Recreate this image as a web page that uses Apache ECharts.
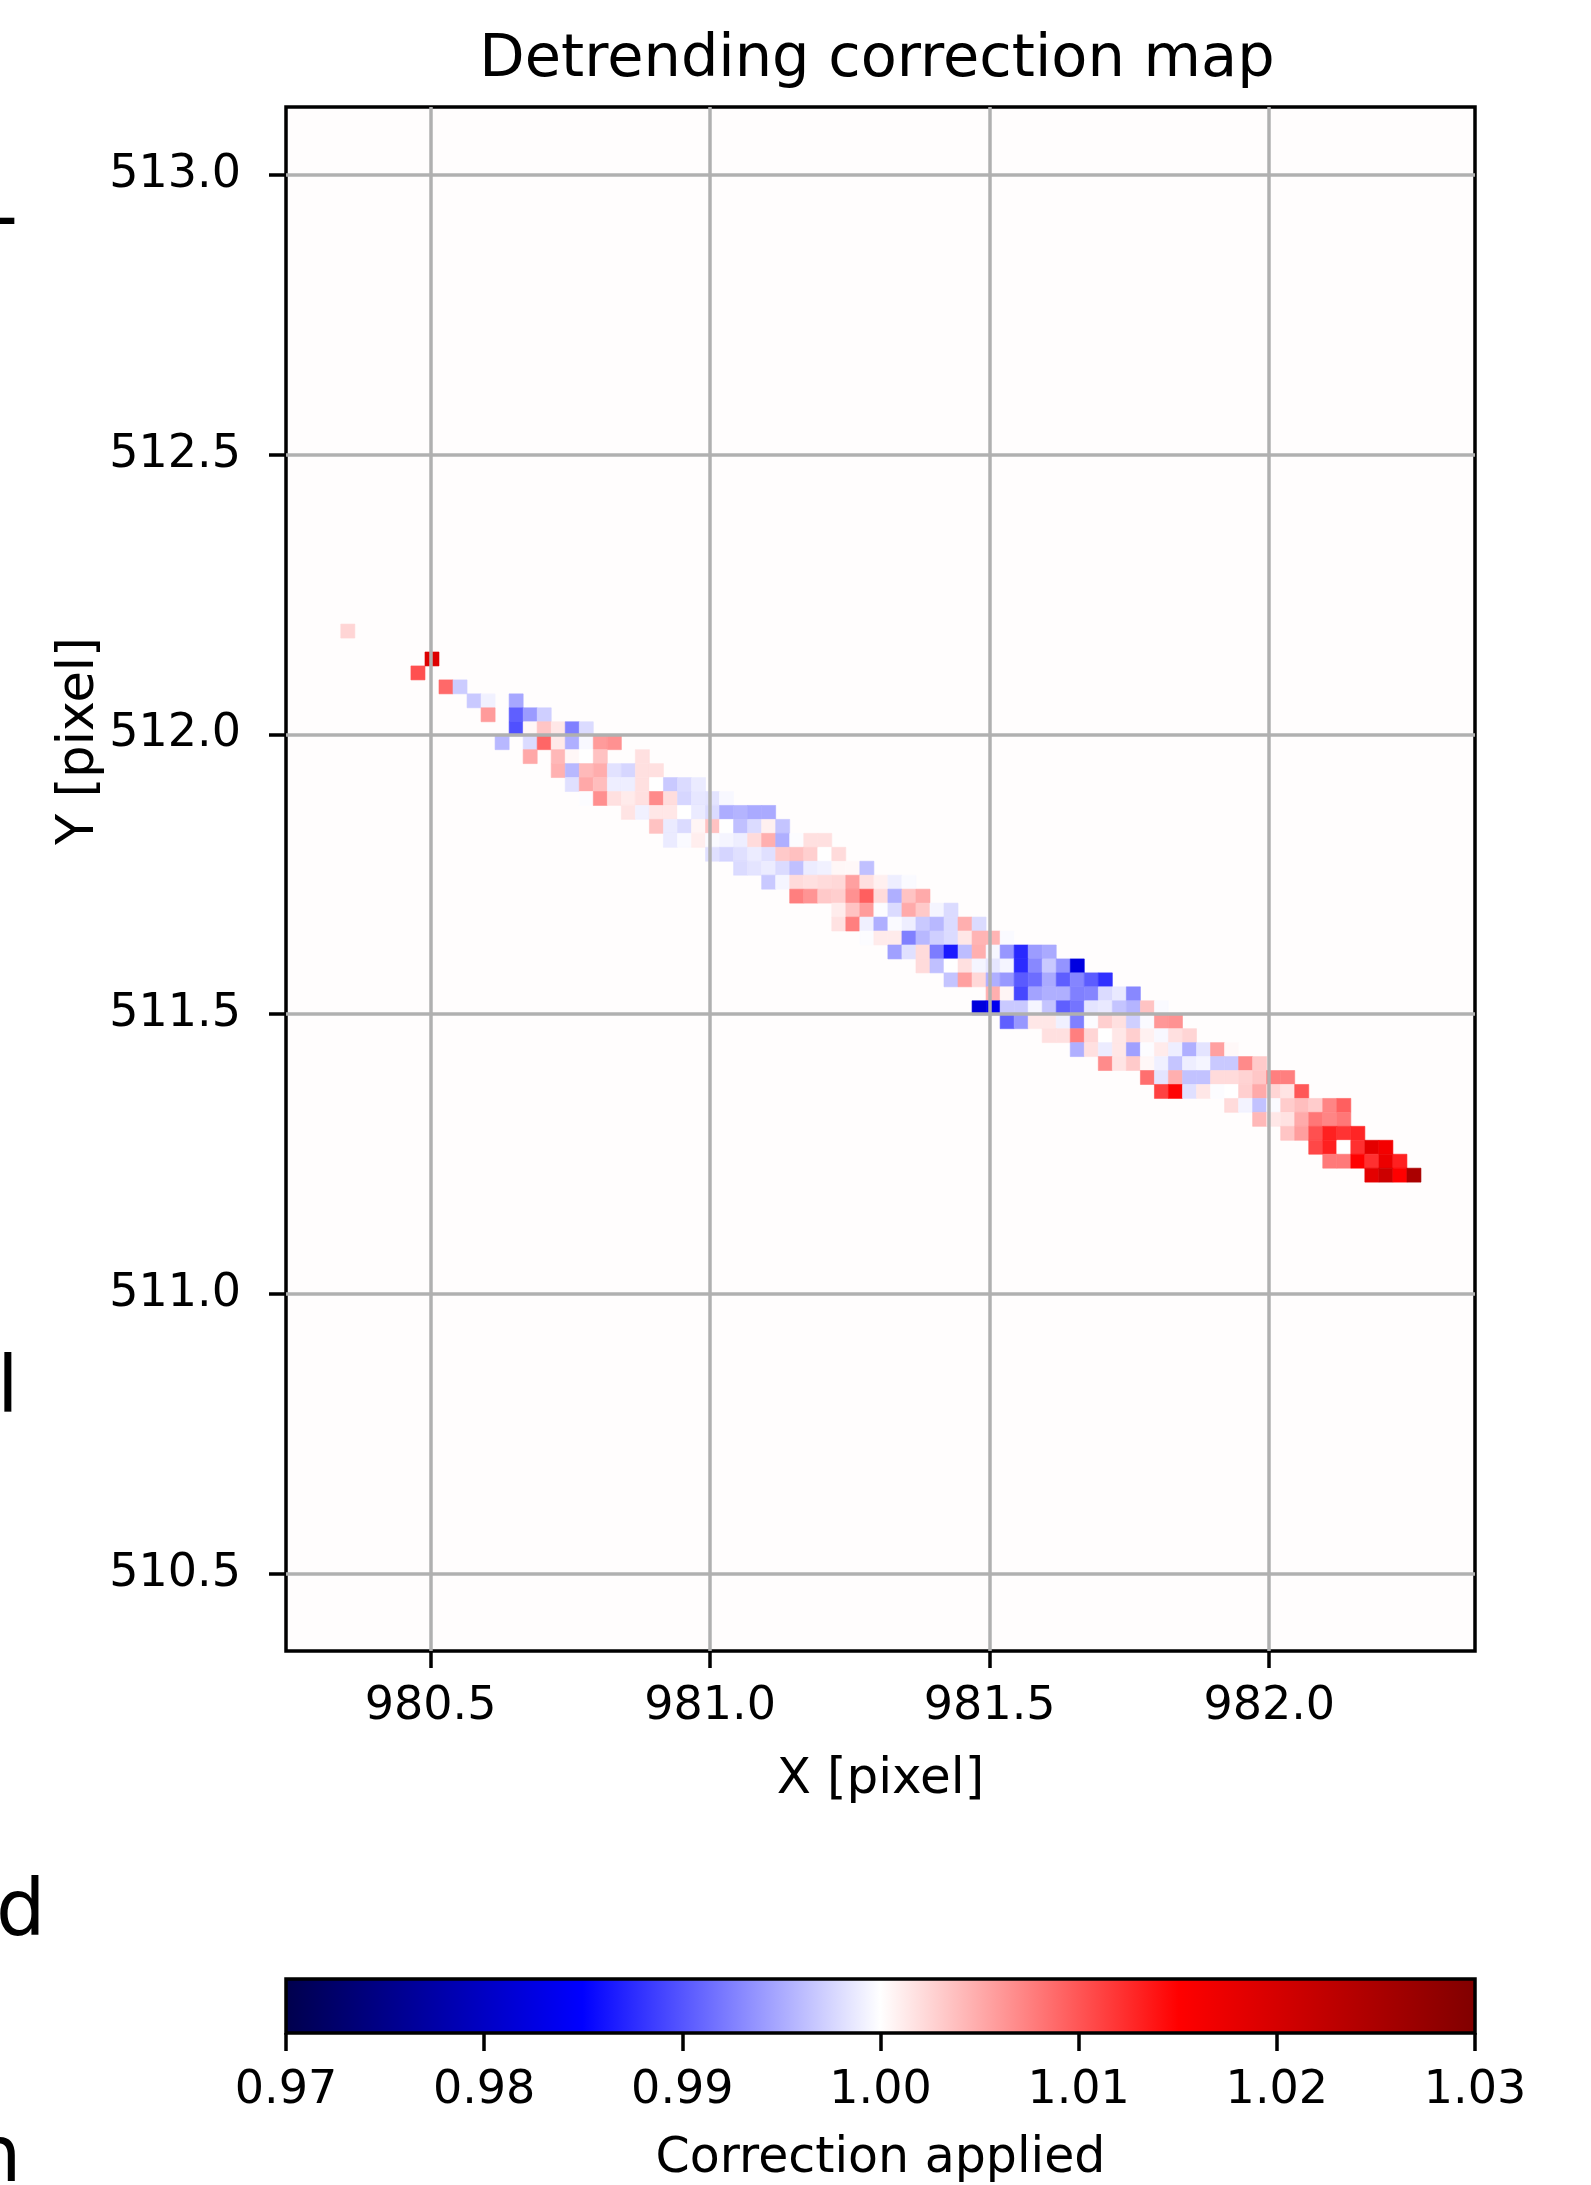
<!DOCTYPE html>
<html>
<head>
<meta charset="utf-8">
<script src="https://cdn.jsdelivr.net/npm/echarts@6/dist/echarts.min.js"></script>
<style>
html,body{margin:0;padding:0;background:#ffffff;}
#chart{width:1591px;height:2185px;}
</style>
</head>
<body>
<div id="chart"></div>
<script>
// ---------- data ----------
const xTicks = [980.5, 981.0, 981.5, 982.0];
const yTicks = [510.5, 511.0, 511.5, 512.0, 512.5, 513.0];
const cbTicks = [0.97, 0.98, 0.99, 1.00, 1.01, 1.02, 1.03];
const xRange = [980.2414, 982.368];
const yRange = [510.3621, 513.1212];
const cbRange = [0.97, 1.03];
const cmapColors = ['#00004c', '#0000ff', '#ffffff', '#ff0000', '#800000'];
// image grid: column c centre = gridX0 + c*gridDX ; row r centre = gridY0 - r*gridDY
const gridX0 = 980.2516, gridDX = 0.02509;
const gridY0 = 513.1071, gridDY = 0.02493;

const rowIndex = [37, 39, 40, 41, 42, 43, 44, 45, 46, 47, 48, 49, 50, 51, 52, 53, 54, 55, 56, 57,
  58, 59, 60, 61, 62, 63, 64, 65, 66, 67, 68, 69, 70, 71, 72, 73, 74, 75, 76];
const rowStartCol = [4, 10, 9, 11, 13, 14, 16, 15, 17, 19, 20, 21, 24, 26, 27, 30, 32, 34, 36, 39,
  39, 41, 43, 45, 47, 50, 49, 51, 54, 56, 58, 61, 62, 67, 69, 71, 73, 74, 77];
const rowValues = [
  [1.0025],
  [1.0190],
  [1.0103],
  [1.0088, 0.9970],
  [0.9968, 0.9992, null, 0.9948],
  [1.0059, null, 0.9906, 0.9941, 0.9972],
  [0.9897, 1.0005, 1.0034, 1.0014, 0.9925, 0.9979],
  [0.9958, null, 0.9979, 1.0090, 1.0013, 0.9953, 0.9996, 1.0059, 1.0065],
  [1.0051, null, 1.0042, 1.0005, 1.0000, 1.0036, null, null, 1.0018],
  [1.0046, 0.9958, 1.0041, 1.0048, 0.9983, 0.9976, 1.0018, 1.0018],
  [0.9982, 1.0051, 1.0039, 0.9990, 0.9990, 1.0018, 1.0000, 0.9968, 0.9979, 0.9988],
  [0.9998, 1.0066, 1.0018, 1.0012, 1.0018, 1.0068, 1.0020, 0.9976, 0.9986, 0.9984, 0.9996],
  [1.0016, 0.9992, 1.0014, 1.0014, 1.0000, 0.9988, 0.9979, 0.9952, 0.9956, 0.9950, 0.9950],
  [1.0036, 0.9988, 0.9979, 1.0006, 1.0036, 1.0000, 0.9963, 0.9979, 1.0009, 0.9965],
  [0.9988, 0.9997, 1.0010, 0.9997, 0.9994, 0.9990, 1.0021, 1.0047, 0.9953, 0.9998, 1.0018, 1.0018],
  [0.9982, 0.9975, 0.9982, 0.9989, 0.9982, 1.0032, 1.0037, 1.0028, 1.0000, 1.0021],
  [0.9979, 0.9984, 0.9989, 0.9979, 0.9963, 0.9989, 0.9992, 1.0005, 1.0004, 0.9963],
  [0.9968, 0.9994, 1.0021, 1.0018, 1.0021, 1.0023, 1.0056, 1.0018, 1.0009, 0.9990, 0.9997],
  [1.0075, 1.0063, 1.0032, 1.0029, 1.0065, 1.0094, 1.0021, 0.9953, 1.0035, 1.0050],
  [1.0011, 1.0035, 1.0058, 0.9998, 0.9979, 1.0050, 1.0032, 0.9994, 0.9979],
  [1.0017, 1.0075, 0.9991, 0.9953, 0.9997, 0.9990, 0.9968, 0.9958, 0.9979, 1.0047, 0.9979],
  [0.9998, 1.0012, 1.0012, 0.9925, 0.9958, 0.9972, 0.9979, 1.0014, 1.0044, 1.0044, 0.9997],
  [0.9944, 0.9982, 1.0021, 0.9923, 0.9865, 0.9961, 1.0047, 0.9995, 0.9939, 0.9874, 0.9942, 0.9950],
  [1.0021, 0.9963, 1.0000, 1.0018, 0.9994, 0.9985, 0.9994, 0.9875, 0.9930, 0.9968, 0.9937, 0.9824],
  [0.9965, 1.0056, 1.0023, 0.9953, 0.9940, 0.9903, 0.9914, 0.9950, 0.9905, 0.9928, 0.9904, 0.9878],
  [1.0047, 1.0006, 0.9892, 0.9946, 0.9953, 0.9953, 0.9925, 0.9928, 0.9979, 0.9987, 0.9930],
  [0.9821, 0.9836, 0.9968, 0.9968, 0.9994, 0.9965, 0.9906, 0.9918, 0.9984, 0.9987, 0.9965, 0.9956, 1.0035, 0.9997],
  [0.9906, 0.9939, 1.0014, 1.0014, 0.9991, 0.9925, 0.9998, 1.0028, 1.0018, 0.9972, 0.9997, 1.0061, 1.0064],
  [1.0018, 1.0018, 1.0075, 1.0025, 1.0000, 1.0014, 1.0028, 1.0008, 0.9996, 1.0018, 1.0025],
  [0.9953, 1.0018, 0.9989, 1.0014, 0.9944, 0.9998, 1.0012, 0.9990, 0.9953, 0.9984, 1.0056, 1.0004],
  [1.0068, 1.0016, 1.0031, 1.0005, 0.9991, 0.9966, 0.9990, 0.9994, 0.9968, 0.9968, 1.0069, 1.0031],
  [1.0085, 0.9984, 1.0047, 0.9964, 0.9964, 1.0021, 1.0021, 1.0026, 1.0033, 1.0075, 1.0075],
  [1.0112, 1.0147, 0.9982, 1.0014, 0.9998, 1.0000, 1.0028, 1.0050, 1.0025, 1.0016, 1.0098],
  [1.0021, 0.9993, 0.9964, 0.9997, 1.0030, 1.0038, 1.0030, 1.0072, 1.0094],
  [1.0042, 1.0014, 1.0017, 1.0050, 1.0080, 1.0072, 1.0080],
  [1.0034, 1.0057, 1.0103, 1.0131, 1.0120, 1.0128],
  [1.0108, 1.0131, 1.0000, 1.0122, 1.0182, 1.0163],
  [1.0079, 1.0079, 1.0150, 1.0122, 1.0172, 1.0131],
  [1.0182, 1.0210, 1.0150, 1.0250]
];

// ---------- build ----------
const cells = [];
rowIndex.forEach(function (r, i) {
  rowValues[i].forEach(function (v, j) {
    if (v === null) return;
    const c = rowStartCol[i] + j;
    cells.push([gridX0 + c * gridDX, gridY0 - r * gridDY, v]);
  });
});

const FONT = '"DejaVu Sans", "Liberation Sans", sans-serif';
const chart = echarts.init(document.getElementById('chart'), null, {renderer: 'canvas'});

function renderCell(params, api) {
  const x = api.value(0), y = api.value(1);
  const p0 = api.coord([x - gridDX / 2, y + gridDY / 2]);
  const p1 = api.coord([x + gridDX / 2, y - gridDY / 2]);
  const color = api.visual('color');
  return {
    type: 'rect',
    shape: {x: p0[0], y: p0[1], width: p1[0] - p0[0], height: p1[1] - p0[1]},
    style: {fill: color, stroke: color, lineWidth: 0.6}
  };
}

function renderColorbar(params, api) {
  const p0 = api.coord([api.value(0), 1]);
  const p1 = api.coord([api.value(1), 0]);
  const stops = cmapColors.map(function (c, i) {
    return {offset: i / (cmapColors.length - 1), color: c};
  });
  return {
    type: 'rect',
    shape: {x: p0[0], y: p0[1], width: p1[0] - p0[0], height: p1[1] - p0[1]},
    style: {fill: new echarts.graphic.LinearGradient(0, 0, 1, 0, stops), stroke: '#000000', lineWidth: 3.5}
  };
}

const tickStyle = {color: '#000000', width: 3.5};

const option = {
  animation: false,
  backgroundColor: '#ffffff',
  textStyle: {fontFamily: FONT},
  grid: [
    {left: 286, top: 107, width: 1189, height: 1544, show: true,
     backgroundColor: '#fffdfd', borderColor: '#000000', borderWidth: 3.5},
    {left: 286, top: 1979, width: 1189, height: 61, show: false}
  ],
  xAxis: [
    {gridIndex: 0, type: 'value', min: xRange[0], max: xRange[1], z: 5,
     axisLine: {show: false},
     axisTick: {show: true, inside: false, length: 17, lineStyle: tickStyle, customValues: xTicks},
     axisLabel: {customValues: xTicks, formatter: function (v) { return v.toFixed(1); },
                 fontSize: 46, fontFamily: FONT, color: '#000000', margin: 33},
     splitLine: {show: true, lineStyle: {color: '#b0b0b0', width: 3.5}},
     name: 'X [pixel]', nameLocation: 'middle', nameGap: 104,
     nameTextStyle: {fontSize: 50, fontFamily: FONT, color: '#000000'}},
    {gridIndex: 1, type: 'value', min: cbRange[0], max: cbRange[1], z: 5,
     axisLine: {show: false},
     axisTick: {show: true, inside: false, length: 18, lineStyle: tickStyle, customValues: cbTicks},
     axisLabel: {customValues: cbTicks, formatter: function (v) { return v.toFixed(2); },
                 fontSize: 46, fontFamily: FONT, color: '#000000', margin: 35},
     splitLine: {show: false},
     name: 'Correction applied', nameLocation: 'middle', nameGap: 102,
     nameTextStyle: {fontSize: 49, fontFamily: FONT, color: '#000000'}}
  ],
  yAxis: [
    {gridIndex: 0, type: 'value', min: yRange[0], max: yRange[1], z: 5,
     axisLine: {show: false},
     axisTick: {show: true, inside: false, length: 17, lineStyle: tickStyle, customValues: yTicks},
     axisLabel: {customValues: yTicks, formatter: function (v) { return v.toFixed(1); },
                 fontSize: 46, fontFamily: FONT, color: '#000000', margin: 45},
     splitLine: {show: true, lineStyle: {color: '#b0b0b0', width: 3.5}}},
    {gridIndex: 1, type: 'value', min: 0, max: 1, show: false}
  ],
  visualMap: {
    type: 'continuous', show: false, seriesIndex: 0, dimension: 2,
    min: cbRange[0], max: cbRange[1], inRange: {color: cmapColors}
  },
  graphic: [
    {type: 'text', x: 877, y: 61, z: 10,
     style: {text: 'Detrending correction map', font: '59px ' + FONT, fill: '#000000',
             textAlign: 'center', textVerticalAlign: 'middle'}},
    {type: 'text', x: 80, y: 741, rotation: Math.PI / 2, z: 10,
     style: {text: 'Y [pixel]', font: '51px ' + FONT, fill: '#000000',
             textAlign: 'center', textVerticalAlign: 'middle'}},
    // clipped letters of the neighbouring panel at the left edge
    {type: 'text', x: -10, y: 222, z: 10,
     style: {text: '-', font: '78px ' + FONT, fill: '#000000', textAlign: 'left', textVerticalAlign: 'middle'}},
    {type: 'text', x: -3, y: 1392, z: 10,
     style: {text: 'l', font: '78px ' + FONT, fill: '#000000', textAlign: 'left', textVerticalAlign: 'middle'}},
    {type: 'text', x: -4, y: 1915, z: 10,
     style: {text: 'd', font: '78px ' + FONT, fill: '#000000', textAlign: 'left', textVerticalAlign: 'middle'}},
    {type: 'text', x: -28, y: 2161, z: 10,
     style: {text: 'n', font: '78px ' + FONT, fill: '#000000', textAlign: 'left', textVerticalAlign: 'middle'}}
  ],
  series: [
    {type: 'custom', name: 'correction', xAxisIndex: 0, yAxisIndex: 0,
     renderItem: renderCell, data: cells, z: 2},
    {type: 'custom', name: 'colorbar', xAxisIndex: 1, yAxisIndex: 1,
     renderItem: renderColorbar, data: [[cbRange[0], cbRange[1]]], z: 2}
  ]
};
chart.setOption(option);
</script>
</body>
</html>
